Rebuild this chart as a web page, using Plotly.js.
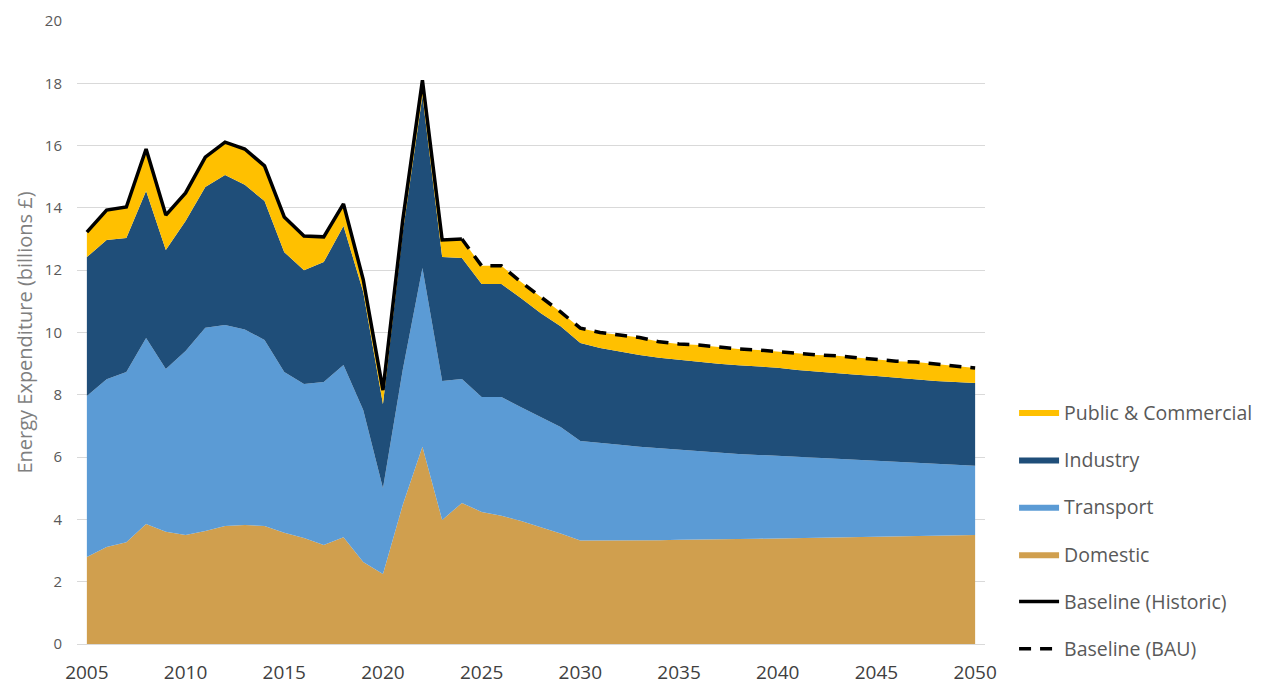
<!DOCTYPE html>
<html>
<head>
<meta charset="utf-8">
<script src="https://cdn.plot.ly/plotly-3.0.1.min.js"></script>
<style>html,body{margin:0;padding:0;background:#fff;}#chart{width:1263px;height:684px;}</style>
</head>
<body>
<div id="chart"></div>
<script>
const years = [2005,2006,2007,2008,2009,2010,2011,2012,2013,2014,2015,2016,2017,2018,2019,2020,2021,2022,2023,2024,2025,2026,2027,2028,2029,2030,2031,2032,2033,2034,2035,2036,2037,2038,2039,2040,2041,2042,2043,2044,2045,2046,2047,2048,2049,2050];

const domestic = [2.79,3.11,3.27,3.85,3.60,3.50,3.63,3.79,3.82,3.79,3.57,3.40,3.18,3.43,2.63,2.25,4.46,6.33,3.98,4.53,4.24,4.12,3.95,3.76,3.55,3.32,3.32,3.32,3.33,3.33,3.35,3.35,3.36,3.37,3.38,3.39,3.40,3.41,3.42,3.43,3.44,3.45,3.46,3.47,3.48,3.50];

const transport = [5.17,5.39,5.46,5.97,5.23,5.91,6.52,6.45,6.28,5.97,5.16,4.95,5.23,5.53,4.88,2.75,4.34,5.74,4.46,3.98,3.69,3.81,3.65,3.52,3.42,3.20,3.15,3.08,3.00,2.95,2.88,2.83,2.77,2.73,2.69,2.65,2.60,2.56,2.52,2.48,2.44,2.40,2.36,2.32,2.28,2.22];

const industry = [4.46,4.47,4.30,4.72,3.82,4.17,4.52,4.82,4.64,4.46,3.85,3.65,3.85,4.46,3.79,2.70,4.40,5.53,3.98,3.88,3.63,3.63,3.50,3.34,3.23,3.14,3.03,2.98,2.95,2.91,2.89,2.88,2.87,2.85,2.85,2.83,2.80,2.77,2.76,2.73,2.72,2.69,2.68,2.65,2.65,2.66];

const publicCommercial = [0.80,0.96,1.00,1.35,1.12,0.90,0.96,1.05,1.15,1.13,1.13,1.10,0.81,0.71,0.40,0.45,0.40,0.50,0.55,0.61,0.58,0.58,0.52,0.52,0.46,0.48,0.50,0.54,0.56,0.51,0.51,0.54,0.54,0.52,0.52,0.51,0.54,0.54,0.55,0.55,0.55,0.54,0.55,0.55,0.51,0.48];

const historicYears = [2005,2006,2007,2008,2009,2010,2011,2012,2013,2014,2015,2016,2017,2018,2019,2020,2021,2022,2023,2024];
const baselineHistoric = [13.22,13.93,14.03,15.89,13.77,14.48,15.63,16.11,15.89,15.35,13.71,13.10,13.07,14.13,11.70,8.15,13.60,18.10,12.97,13.00];

const bauYears = [2024,2025,2026,2027,2028,2029,2030,2031,2032,2033,2034,2035,2036,2037,2038,2039,2040,2041,2042,2043,2044,2045,2046,2047,2048,2049,2050];
const baselineBAU = [13.00,12.14,12.14,11.62,11.14,10.66,10.14,10.00,9.92,9.84,9.70,9.63,9.60,9.54,9.47,9.44,9.38,9.34,9.28,9.25,9.19,9.15,9.08,9.05,8.99,8.92,8.86];

const xTicks = [2005,2010,2015,2020,2025,2030,2035,2040,2045,2050];
const yTicks = [0,2,4,6,8,10,12,14,16,18,20];

const FONT = 'Open Sans, Noto Sans, sans-serif';

function area(name, y, color, rank) {
  return {
    type: 'scatter', mode: 'lines', x: years, y: y, name: name,
    stackgroup: 'one', fillcolor: color,
    line: {width: 0, color: color},
    legendgroup: name, legendrank: rank,
    hoverinfo: 'x+y+name'
  };
}

const traces = [
  area('Domestic', domestic, '#D09F4E', 4),
  area('Transport', transport, '#5B9BD5', 3),
  area('Industry', industry, '#1F4E79', 2),
  area('Public & Commercial', publicCommercial, '#FFC000', 1),
  {type: 'scatter', mode: 'lines', x: historicYears, y: baselineHistoric, name: 'Baseline (Historic)',
   line: {color: '#000000', width: 3.5}, legendgroup: 'h', legendrank: 5},
  {type: 'scatter', mode: 'lines', x: bauYears, y: baselineBAU, name: 'Baseline (BAU)',
   line: {color: '#000000', width: 3.5, dash: '12px,9px'}, legendgroup: 'b', legendrank: 6}
];

const layout = {
  width: 1263, height: 684,
  margin: {l: 77, r: 278, t: 21, b: 40},
  paper_bgcolor: '#ffffff', plot_bgcolor: '#ffffff',
  font: {family: FONT, color: '#595959'},
  showlegend: true,
  legend: {
    xref: 'container', yref: 'paper',
    x: 0.8029, xanchor: 'left', y: 0.403, yanchor: 'top',
    traceorder: 'grouped', tracegroupgap: 19,
    itemwidth: 40,
    font: {family: FONT, size: 19.5, color: '#595959'},
    bgcolor: 'rgba(0,0,0,0)'
  },
  xaxis: {
    range: [2004.5, 2050.5], tickmode: 'array', tickvals: xTicks, ticktext: xTicks.map(String),
    showgrid: false, zeroline: false,
    showline: true, linecolor: '#D9D9D9', linewidth: 1,
    ticks: '', tickfont: {family: FONT, size: 19, color: '#404040'},
    ticklabelstandoff: 11, fixedrange: true
  },
  yaxis: {
    range: [0, 20], tickmode: 'array', tickvals: yTicks, ticktext: yTicks.map(String),
    showgrid: true, gridcolor: '#D9D9D9', gridwidth: 1, zeroline: false,
    showline: false, ticks: '',
    tickfont: {family: FONT, size: 15, color: '#595959'},
    ticklabelstandoff: 14,
    title: {text: 'Energy Expenditure (billions £)', font: {family: FONT, size: 20, color: '#7F7F7F'}, standoff: 6},
    fixedrange: true
  }
};

Plotly.newPlot('chart', traces, layout, {displayModeBar: false, staticPlot: true});
</script>
</body>
</html>
